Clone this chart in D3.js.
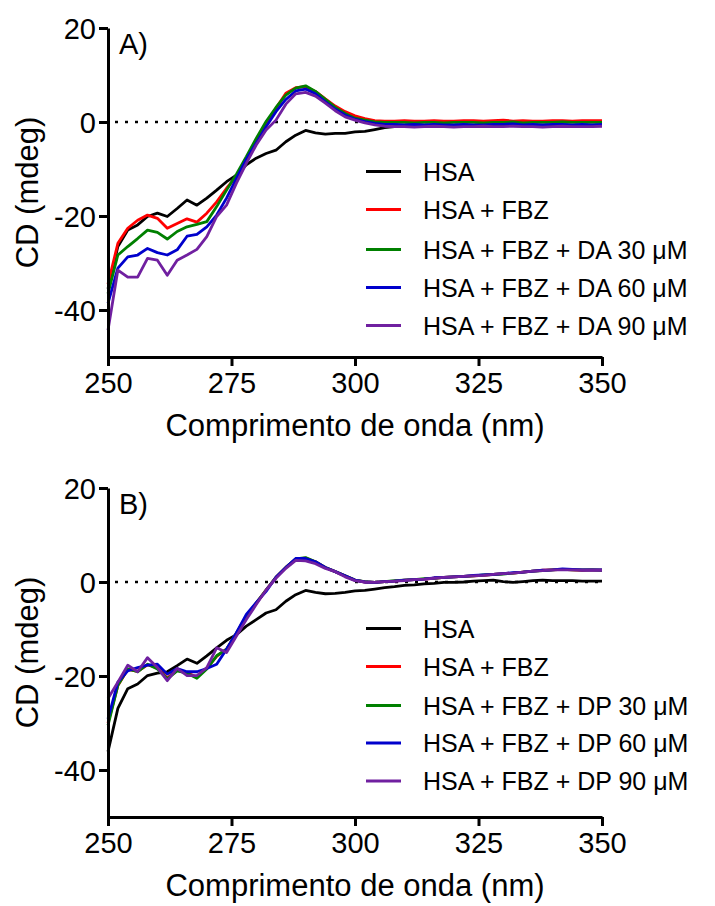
<!DOCTYPE html>
<html>
<head>
<meta charset="utf-8">
<script src="https://cdn.jsdelivr.net/npm/d3@7"></script>
<style>
  body { margin: 0; background: #fff; }
  svg { display: block; font-family: "Liberation Sans", Arial, sans-serif; }
</style>
</head>
<body>
<svg id="chart" width="715" height="906"></svg>
<script>
// wavelengths (nm), 2 nm step
const wavelengths = [250,252,254,256,258,260,262,264,266,268,270,272,274,276,278,280,282,284,286,288,290,
  292,294,296,298,300,302,304,306,308,310,312,314,316,318,320,322,324,326,328,330,332,334,336,338,340,
  342,344,346,348,350];

const xTicks = [250, 275, 300, 325, 350];
const yTicks = [-40, -20, 0, 20];

// Panel A: HSA + FBZ + DA
const aHSA = [-35.5,-26.5,-23,-21.9,-20.1,-19.4,-20.1,-18.4,-16.6,-17.7,-16.2,-14.5,-12.7,-11.3,-9.1,-7.7,-6.7,-6.0,-4.2,-2.8,-1.8,
  -2.3,-2.6,-2.4,-2.4,-2.1,-2.0,-1.6,-1.2,-1.0,-0.8,-0.7,-0.7,-0.8,-0.8,-0.7,-0.8,-0.7,-0.8,-0.8,-0.7,-0.6,-0.8,-0.8,-0.7,-0.8,
  -0.8,-0.7,-0.7,-0.8,-0.7];
const aFBZ = [-34.5,-25.8,-22.6,-20.9,-19.8,-20.5,-22.6,-21.6,-20.6,-21.3,-19.4,-17.0,-14.1,-11.6,-8.1,-3.8,-0.3,2.9,6.1,7.3,7.5,
  6.5,4.9,3.4,2.2,1.3,0.7,0.3,0.2,0.2,0.3,0.2,0.2,0.3,0.2,0.2,0.3,0.3,0.2,0.3,0.4,0.2,0.3,0.2,0.2,0.3,
  0.3,0.2,0.3,0.3,0.3];
const aDA30 = [-36.5,-28.3,-26.5,-24.8,-23.0,-23.5,-24.9,-23.3,-22.3,-21.8,-21.2,-18.0,-14.5,-11.1,-7.4,-3.5,0.1,3.1,5.7,7.2,7.7,
  6.5,4.8,3.1,1.8,0.8,0.4,0.0,-0.1,-0.1,-0.1,-0.2,-0.1,-0.1,-0.2,-0.1,-0.1,-0.1,-0.2,-0.1,-0.1,0.0,-0.2,-0.1,-0.1,-0.1,
  0.0,-0.1,-0.1,-0.1,-0.1];
const aDA60 = [-38.6,-31.1,-28.7,-28.3,-26.9,-27.8,-28.3,-27.2,-24.3,-23.9,-22.3,-19.8,-16.2,-12.0,-7.9,-4.5,-1.0,2.2,4.8,6.6,7.0,
  6.0,4.3,2.7,1.5,0.6,0.1,-0.3,-0.5,-0.5,-0.6,-0.5,-0.6,-0.5,-0.6,-0.6,-0.5,-0.6,-0.6,-0.5,-0.5,-0.4,-0.6,-0.5,-0.6,-0.5,
  -0.5,-0.6,-0.5,-0.6,-0.5];
const aDA90 = [-44.3,-31.5,-33.0,-33.0,-29.0,-29.4,-32.6,-29.4,-28.3,-27.1,-24.4,-20.1,-17.7,-13.0,-8.8,-4.9,-1.7,0.4,3.8,6.0,6.3,
  5.5,4.0,2.4,1.1,0.4,-0.2,-0.6,-0.9,-1.0,-1.0,-1.1,-1.0,-0.9,-1.0,-1.1,-1.0,-1.0,-0.9,-1.0,-1.0,-0.9,-1.0,-1.0,-1.1,-1.0,
  -0.9,-1.0,-1.0,-1.0,-0.9];

// Panel B: HSA + FBZ + DP
const bHSA = [-36.1,-26.9,-22.7,-21.7,-19.9,-19.4,-19.1,-17.8,-16.4,-17.3,-15.7,-14.0,-12.4,-11.2,-9.4,-8.0,-6.6,-5.9,-4.1,-2.7,-1.8,
  -2.2,-2.5,-2.4,-2.2,-1.9,-1.8,-1.5,-1.2,-1.0,-0.7,-0.6,-0.4,-0.3,-0.1,-0.1,0.0,0.2,0.3,0.4,0.1,-0.1,0.1,0.3,0.4,0.3,
  0.3,0.3,0.2,0.2,0.2];
const bFBZ = [-30.0,-22.0,-18.6,-19.0,-17.6,-18.3,-20.4,-18.8,-19.3,-20.2,-18.4,-15.8,-14.3,-10.9,-7.3,-4.5,-1.7,1.0,3.1,4.9,5.1,
  4.3,3.1,2.2,1.3,0.4,0.0,-0.1,0.1,0.2,0.4,0.5,0.6,0.8,1.0,1.1,1.2,1.3,1.4,1.6,1.8,1.9,2.1,2.3,2.5,2.6,
  2.7,2.6,2.5,2.6,2.5];
const bDP30 = [-30.5,-22.0,-18.5,-19.1,-17.5,-18.5,-20.6,-18.9,-19.4,-20.5,-18.5,-15.7,-14.3,-10.9,-7.3,-4.5,-1.7,1.0,3.1,4.9,5.2,
  4.3,3.1,2.2,1.3,0.4,0.1,-0.1,0.1,0.3,0.4,0.5,0.7,0.8,1.0,1.1,1.2,1.3,1.5,1.6,1.7,1.9,2.1,2.3,2.4,2.6,
  2.7,2.6,2.6,2.6,2.5];
const bDP60 = [-29.1,-21.3,-18.9,-18.2,-17.7,-17.5,-19.6,-18.4,-19.1,-19.1,-18.4,-17.5,-14.3,-10.8,-6.9,-4.4,-2.0,1.0,3.1,5.0,5.0,
  4.3,3.1,2.2,1.3,0.4,0.0,-0.1,0.1,0.2,0.4,0.5,0.6,0.9,1.0,1.1,1.2,1.4,1.5,1.6,1.8,2.0,2.1,2.3,2.5,2.6,
  2.8,2.7,2.6,2.6,2.6];
const bDP90 = [-24.8,-21.3,-17.7,-19.1,-16.1,-18.2,-21.0,-18.4,-19.9,-19.9,-18.2,-14.0,-15.0,-11.5,-8.0,-4.8,-1.7,0.8,2.9,4.6,4.5,
  3.9,2.9,2.2,1.1,0.3,0.0,-0.1,0.1,0.2,0.3,0.5,0.6,0.8,1.0,1.1,1.2,1.3,1.4,1.6,1.8,1.9,2.1,2.3,2.4,2.6,
  2.6,2.6,2.5,2.5,2.5];

const colors = ["#000000", "#ff0000", "#008000", "#0000cc", "#7020a0"];
const labelsA = ["HSA", "HSA + FBZ", "HSA + FBZ + DA 30 \u03bcM", "HSA + FBZ + DA 60 \u03bcM", "HSA + FBZ + DA 90 \u03bcM"];
const labelsB = ["HSA", "HSA + FBZ", "HSA + FBZ + DP 30 \u03bcM", "HSA + FBZ + DP 60 \u03bcM", "HSA + FBZ + DP 90 \u03bcM"];

const svg = d3.select("#chart");

function drawPanel(opts) {
  const x = d3.scaleLinear().domain([250, 350]).range([108, 602]);
  const y = d3.scaleLinear().domain([-50, 20]).range([opts.bottom, opts.top]);

  const g = svg.append("g");

  // zero reference line (dotted)
  g.append("line")
    .attr("x1", x(250)).attr("x2", x(350))
    .attr("y1", y(0)).attr("y2", y(0))
    .attr("stroke", "#000")
    .attr("stroke-width", 2.6)
    .attr("stroke-dasharray", "3 7")
    .attr("stroke-dashoffset", 3);

  // curves
  const line = d3.line()
    .x((d, i) => x(wavelengths[i]))
    .y(d => y(d));
  opts.series.forEach((s, i) => {
    g.append("path")
      .datum(s)
      .attr("fill", "none")
      .attr("stroke", colors[i])
      .attr("stroke-width", 2.8)
      .attr("stroke-linejoin", "round")
      .attr("d", line);
  });

  // x axis
  const xAxis = g.append("g")
    .attr("transform", `translate(0,${opts.bottom})`)
    .call(d3.axisBottom(x).tickValues(xTicks).tickSize(9).tickSizeOuter(0));
  xAxis.selectAll("text")
    .attr("y", 36).attr("dy", 0)
    .style("font-size", "29px")
    .attr("fill", "#000");

  // y axis (plain hyphen for negatives, like the original)
  const yAxis = g.append("g")
    .attr("transform", `translate(${x(250)},0)`)
    .call(d3.axisLeft(y).tickValues(yTicks).tickSize(9).tickSizeOuter(0).tickFormat(d => String(d)));
  yAxis.selectAll("text")
    .attr("x", -12)
    .attr("dy", "0.36em")
    .style("font-size", "29px")
    .attr("fill", "#000");

  [xAxis, yAxis].forEach(a => {
    a.select(".domain").attr("stroke", "#000").attr("stroke-width", 3);
    a.selectAll(".tick line").attr("stroke", "#000").attr("stroke-width", 3);
    a.attr("font-family", null);
  });

  // titles
  g.append("text")
    .attr("x", 355).attr("y", opts.bottom + 79)
    .attr("text-anchor", "middle")
    .style("font-size", "31px")
    .text("Comprimento de onda (nm)");

  g.append("text")
    .attr("transform", `translate(38,${(opts.top + opts.bottom) / 2}) rotate(-90)`)
    .attr("text-anchor", "middle")
    .style("font-size", "31px")
    .text("CD (mdeg)");

  g.append("text")
    .attr("x", 119).attr("y", opts.top + 26)
    .style("font-size", "29px")
    .text(opts.panel);

  // legend
  const leg = g.append("g");
  opts.labels.forEach((lab, i) => {
    const ly = opts.legendY[i];
    leg.append("line")
      .attr("x1", 366).attr("x2", 401)
      .attr("y1", ly).attr("y2", ly)
      .attr("stroke", colors[i])
      .attr("stroke-width", 3);
    leg.append("text")
      .attr("x", 423).attr("y", ly + 9)
      .style("font-size", "25px")
      .text(lab);
  });
}

drawPanel({
  panel: "A)", top: 28, bottom: 357,
  series: [aHSA, aFBZ, aDA30, aDA60, aDA90],
  labels: labelsA,
  legendY: [171.5, 209.5, 249.5, 287.5, 325.5]
});

drawPanel({
  panel: "B)", top: 488, bottom: 817,
  series: [bHSA, bFBZ, bDP30, bDP60, bDP90],
  labels: labelsB,
  legendY: [628.5, 666.5, 705.5, 743, 781]
});
</script>
</body>
</html>
